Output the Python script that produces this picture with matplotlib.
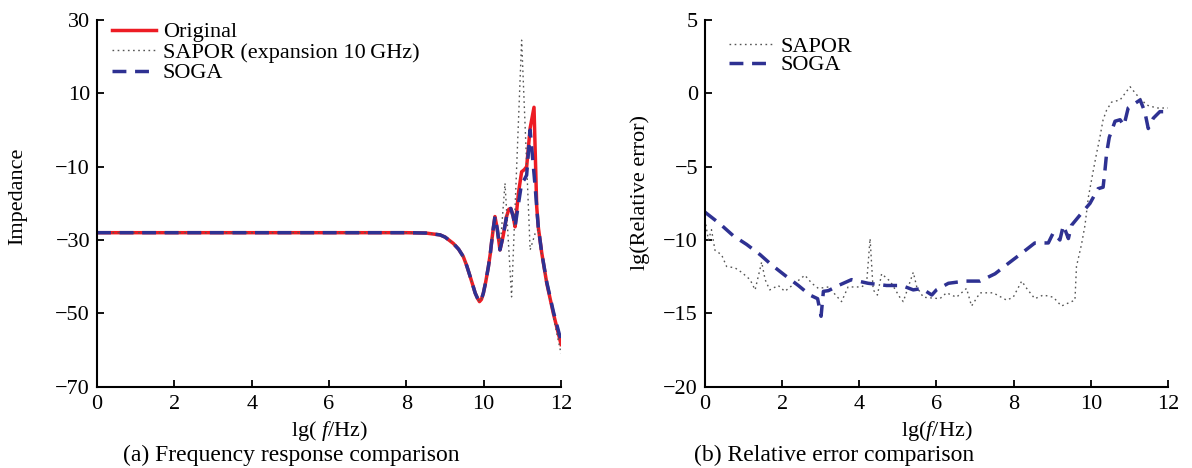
import matplotlib
matplotlib.use("Agg")
import matplotlib.pyplot as plt

plt.rcParams['font.family'] = ['Liberation Serif', 'DejaVu Serif']
plt.rcParams['mathtext.fontset'] = 'custom'
plt.rcParams['mathtext.rm'] = 'Liberation Serif'
plt.rcParams['mathtext.it'] = 'Liberation Serif:italic'
plt.rcParams['axes.unicode_minus'] = True

# (a) frequency response, x = lg(f/Hz)
orig_x = [0, 1, 2, 3, 4, 5, 6, 7, 8, 8.5, 8.87, 9.0, 9.21, 9.35, 9.47, 9.56, 9.65, 9.72,
          9.78, 9.84, 9.89, 9.94, 9.99, 10.05, 10.12, 10.17, 10.21, 10.25, 10.29, 10.35,
          10.42, 10.50, 10.59, 10.65, 10.70, 10.76, 10.81, 10.90, 10.98, 11.05, 11.11,
          11.20, 11.30, 11.37, 11.41, 11.50, 11.63, 11.80, 12.0]
orig_y = [-28, -28, -28, -28, -28, -28, -28, -28, -28, -28.1, -28.6, -29.2, -30.9, -32.5,
          -34.5, -37.0, -40.0, -42.4, -44.5, -45.9, -46.8, -46.2, -44.5, -41.5, -37.3,
          -33.7, -30.0, -26.6, -23.6, -27.0, -32.7, -29.0, -23.6, -21.6, -21.4, -23.5,
          -26.4, -17.0, -11.4, -10.8, -10.0, 0.5, 6.2, -20.9, -26.4, -33.5, -41.8, -50.0,
          -58.5]

soga_x = [0, 1, 2, 3, 4, 5, 6, 7, 8, 8.5, 8.87, 9.0, 9.21, 9.35, 9.47, 9.56, 9.65, 9.72,
          9.78, 9.84, 9.89, 9.94, 9.99, 10.05, 10.12, 10.17, 10.21, 10.25, 10.29, 10.35,
          10.42, 10.50, 10.59, 10.65, 10.70, 10.76, 10.81, 10.90, 10.98, 11.05, 11.11,
          11.20, 11.33, 11.41, 11.50, 11.63, 11.80, 12.0]
soga_y = [-28, -28, -28, -28, -28, -28, -28, -28, -28, -28.1, -28.6, -29.2, -30.9, -32.5,
          -34.5, -37.0, -40.0, -42.4, -44.5, -45.9, -46.8, -46.2, -44.5, -41.5, -37.3,
          -33.7, -30.0, -26.6, -23.6, -27.0, -32.7, -29.0, -23.6, -21.6, -21.4, -23.5,
          -26.4, -20.0, -14.5, -13.5, -12.3, 0.0, -15.5, -26.4, -33.5, -41.5, -49.5, -57.5]

sapor_x = [0, 1, 2, 3, 4, 5, 6, 7, 8, 8.5, 8.87, 9.0, 9.21, 9.35, 9.47, 9.56, 9.65, 9.72,
           9.78, 9.84, 9.89, 9.94, 9.99, 10.05, 10.12, 10.17, 10.21, 10.25, 10.29, 10.35,
           10.42, 10.55, 10.72, 10.98, 11.20, 11.33, 11.41, 11.50, 11.63, 11.80, 12.0]
sapor_y = [-28, -28, -28, -28, -28, -28, -28, -28, -28, -28.1, -28.6, -29.2, -30.9, -32.5,
           -34.5, -37.0, -40.0, -42.4, -44.5, -45.9, -46.8, -46.2, -44.5, -41.5, -37.3,
           -33.7, -30.0, -26.6, -23.6, -27.0, -32.7, -14.5, -45.5, 24.5, -32.7, -28.2,
           -27.0, -34.0, -42.0, -51.0, -61.0]

# (b) relative error, lg values
err_sapor_x = [0, 0.09, 0.17, 0.26, 0.43, 0.56, 0.78, 0.95, 1.17, 1.30, 1.47, 1.56, 1.68,
               1.90, 2.07, 2.33, 2.59, 2.77, 2.94, 3.20, 3.54, 3.71, 4.06, 4.19, 4.28, 4.36,
               4.47, 4.58, 4.75, 4.80, 5.05, 5.14, 5.40, 5.49, 5.66, 6.09, 6.26, 6.52, 6.78,
               6.91, 7.13, 7.47, 7.82, 7.99, 8.21, 8.34, 8.55, 8.77, 9.03, 9.24, 9.50, 9.59,
               9.63, 9.76, 9.85, 9.94, 10.07, 10.15, 10.24, 10.32, 10.41, 10.54, 10.76,
               11.02, 11.19, 11.45, 11.71, 12.0]
err_sapor_y = [-8.6, -10.0, -9.3, -10.7, -11.0, -11.8, -11.9, -12.2, -12.7, -13.4, -11.5,
               -12.7, -13.4, -13.1, -13.5, -12.95, -12.4, -12.95, -13.3, -13.2, -14.2, -13.2,
               -13.2, -12.95, -9.9, -13.4, -13.75, -12.3, -12.7, -12.8, -13.9, -14.2, -12.2,
               -13.2, -13.9, -14.0, -13.6, -13.9, -13.3, -14.5, -13.6, -13.6, -14.1, -13.9,
               -12.8, -13.3, -14.0, -13.75, -13.9, -14.5, -14.2, -14.1, -11.8, -10.3, -9.0,
               -7.05, -5.2, -4.1, -2.95, -1.8, -1.15, -0.6, -0.45, 0.45, -0.1, -0.8, -1.0,
               -1.0]

err_soga_x = [0, 0.39, 0.73, 1.08, 1.43, 1.73, 2.07, 2.42, 2.72, 2.92, 3.01, 3.07, 3.20,
              3.46, 3.80, 4.23, 4.71, 5.10, 5.40, 5.62, 5.88, 6.00, 6.31, 6.74, 7.13, 7.52,
              7.86, 8.21, 8.55, 8.90, 9.03, 9.20, 9.29, 9.42, 9.50, 9.72, 9.98, 10.19,
              10.32, 10.37, 10.41, 10.48, 10.63, 10.76, 10.86, 10.97, 11.28, 11.40, 11.49,
              11.62, 11.79, 12.0]
err_soga_y = [-8.1, -8.9, -9.7, -10.3, -11.0, -11.7, -12.4, -13.1, -13.75, -14.0, -15.2,
              -13.5, -13.45, -13.1, -12.7, -12.95, -13.1, -13.1, -13.4, -13.3, -13.75, -13.4,
              -12.95, -12.8, -12.8, -12.3, -11.6, -10.9, -10.2, -10.2, -9.5, -10.0, -9.0,
              -9.9, -9.0, -8.3, -7.5, -6.5, -6.4, -5.2, -4.1, -3.0, -1.9, -1.8, -2.2, -1.0,
              -0.45, -1.25, -2.4, -1.7, -1.25, -1.25]

red = '#ED1C24'
blue = '#2E3192'
grey = '#555555'
fs = 16

fig = plt.figure(figsize=(11.92, 4.68), dpi=100)
ax1 = fig.add_axes([0.0814, 0.1737, 0.3893, 0.7836])
ax2 = fig.add_axes([0.5914, 0.1737, 0.3884, 0.7836])

ax1.plot(orig_x, orig_y, color=red, lw=2.5, label='Original')
ax1.plot(sapor_x, sapor_y, color=grey, lw=1.0, ls=(0, (1.2, 2.5)),
         label='SAPOR (expansion 10\u2009GHz)')
ax1.plot(soga_x, soga_y, color=blue, lw=2.5, ls=(0, (4, 2.5)), label='SOGA')
ax1.set_xlim(0, 12)
ax1.set_ylim(-70, 30)
ax1.set_xticks([0, 2, 4, 6, 8, 10, 12])
ax1.set_yticks([30, 10, -10, -30, -50, -70])
ax1.set_xlabel(r'lg( $f$/Hz)', fontsize=fs)
ax1.set_ylabel('Impedance', fontsize=fs, va='center')
ax1.xaxis.set_label_coords(0.5, -0.088)
ax1.yaxis.set_label_coords(-0.170, 0.52)

ax2.plot(err_sapor_x, err_sapor_y, color=grey, lw=1.0, ls=(0, (1.2, 2.5)), label='SAPOR')
ax2.plot(err_soga_x, err_soga_y, color=blue, lw=2.5, ls=(0, (4, 2.5)), label='SOGA')
ax2.set_xlim(0, 12)
ax2.set_ylim(-20, 5)
ax2.set_xticks([0, 2, 4, 6, 8, 10, 12])
ax2.set_yticks([5, 0, -5, -10, -15, -20])
ax2.set_xlabel(r'lg($f$/Hz)', fontsize=fs)
ax2.set_ylabel('lg(Relative error)', fontsize=fs, va='center')
ax2.xaxis.set_label_coords(0.5, -0.088)
ax2.yaxis.set_label_coords(-0.140, 0.53)

for ax in (ax1, ax2):
    ax.spines['top'].set_visible(False)
    ax.spines['right'].set_visible(False)
    ax.spines['left'].set_linewidth(1.5)
    ax.spines['bottom'].set_linewidth(1.5)
    ax.tick_params(direction='in', length=5, width=1.3, labelsize=fs)
    ax.tick_params(axis='x', pad=6)
    ax.tick_params(axis='y', pad=5)

ax1.legend(loc='upper left', frameon=False, fontsize=fs, handlelength=2.0,
           handletextpad=0.3, labelspacing=0.0, borderaxespad=0, borderpad=0,
           bbox_to_anchor=(0.032, 0.995))
ax2.legend(loc='upper left', frameon=False, fontsize=fs, handlelength=2.0,
           handletextpad=0.3, labelspacing=-0.08, borderaxespad=0, borderpad=0,
           bbox_to_anchor=(0.052, 0.956))

fig.text(0.244, 0.026, '(a) Frequency response comparison', fontsize=17,
         ha='center', va='center')
fig.text(0.700, 0.026, '(b) Relative error comparison', fontsize=17,
         ha='center', va='center')

fig.savefig('out.png', dpi=100)
